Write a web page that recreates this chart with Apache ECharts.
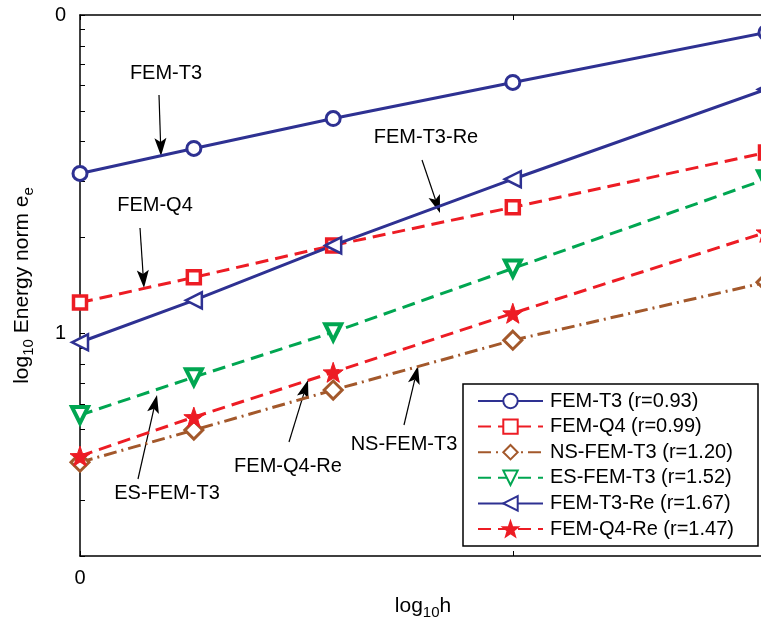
<!DOCTYPE html>
<html>
<head>
<meta charset="utf-8">
<script src="https://cdn.jsdelivr.net/npm/echarts@6/dist/echarts.min.js"></script>
<style>
  html, body { margin: 0; padding: 0; background: #fff; }
  #chart { width: 761px; height: 621px; }
</style>
</head>
<body>
<div id="chart"></div>
<script>
  // mesh size (log axis) and energy norm errors
  var hValues = [1, 1.2, 1.5, 2, 3]
  var femT3 = [0.318, 0.381, 0.473, 0.614, 0.881]
  var femQ4 = [0.125, 0.150, 0.189, 0.249, 0.370]
  var nsFemT3 = [0.0394, 0.0497, 0.0664, 0.0952, 0.1448]
  var esFemT3 = [0.0554, 0.0729, 0.1009, 0.160, 0.305]
  var femT3Re = [0.0938, 0.127, 0.189, 0.305, 0.584]
  var femQ4Re = [0.0412, 0.0546, 0.0755, 0.1157, 0.2077]
  var seriesNames = ['FEM-T3 (r=0.93)', 'FEM-Q4 (r=0.99)', 'NS-FEM-T3 (r=1.20)',
    'ES-FEM-T3 (r=1.52)', 'FEM-T3-Re (r=1.67)', 'FEM-Q4-Re (r=1.47)']

  var yTicks = [0.02, 0.03, 0.04, 0.05, 0.06, 0.07, 0.08, 0.09,
    0.1, 0.2, 0.3, 0.4, 0.5, 0.6, 0.7, 0.8, 0.9, 1]
  var yLabels = [0.1, 1]
  var xTicks = [1, 2]
  var xLabels = [1]

  var BLUE = '#2E3192'
  var RED = '#ED1C24'
  var GREEN = '#00A651'
  var BROWN = '#A3582B'
  var FONT = 'Liberation Sans, Arial, sans-serif'
  var STAR = 'path://M0,-10L2.35,-3.24L9.51,-3.09L3.8,1.24L5.88,8.09L0,4.4L-5.88,8.09L-3.8,1.24L-9.51,-3.09L-2.35,-3.24Z'

  function pairs (vals) {
    return hValues.map(function (h, i) { return [h, vals[i]] })
  }

  function makeSeries (name, vals, color, dash, symbol, size, rotate, fill, bw) {
    return {
      name: name,
      type: 'line',
      data: pairs(vals),
      symbol: symbol,
      symbolSize: size,
      symbolRotate: rotate,
      showAllSymbol: true,
      lineStyle: { color: color, width: 3, type: dash },
      itemStyle: { color: fill, borderColor: color, borderWidth: bw },
      emphasis: { disabled: true }
    }
  }

  // annotation labels with arrows (pixel layout)
  var notes = [
    { text: 'FEM-T3', tx: 166, ty: 73, x1: 159, y1: 95, x2: 161, y2: 156 },
    { text: 'FEM-Q4', tx: 155, ty: 205, x1: 140, y1: 228, x2: 144, y2: 288 },
    { text: 'FEM-T3-Re', tx: 426, ty: 137, x1: 422, y1: 160, x2: 440, y2: 213 },
    { text: 'ES-FEM-T3', tx: 167, ty: 493, x1: 138, y1: 479, x2: 157, y2: 395 },
    { text: 'FEM-Q4-Re', tx: 288, ty: 466, x1: 289, y1: 442, x2: 308, y2: 380 },
    { text: 'NS-FEM-T3', tx: 404, ty: 444, x1: 404, y1: 425, x2: 418, y2: 366 }
  ]

  function noteGraphics () {
    var out = []
    notes.forEach(function (n) {
      var dx = n.x2 - n.x1
      var dy = n.y2 - n.y1
      var len = Math.sqrt(dx * dx + dy * dy)
      var ux = dx / len
      var uy = dy / len
      var hl = 18
      var hw = 6
      var bx = n.x2 - ux * hl
      var by = n.y2 - uy * hl
      out.push({
        type: 'line',
        shape: { x1: n.x1, y1: n.y1, x2: bx + ux * 4, y2: by + uy * 4 },
        style: { stroke: '#000', lineWidth: 1.2 }
      })
      out.push({
        type: 'polygon',
        shape: { points: [[n.x2, n.y2], [bx - uy * hw, by + ux * hw], [bx + ux * 4, by + uy * 4], [bx + uy * hw, by - ux * hw]] },
        style: { fill: '#000' }
      })
      out.push({
        type: 'text',
        x: n.tx,
        y: n.ty,
        style: { text: n.text, font: '20px ' + FONT, fill: '#000', align: 'center', verticalAlign: 'middle' }
      })
    })
    return out
  }

  var myChart = echarts.init(document.getElementById('chart'))
  myChart.setOption({
    animation: false,
    backgroundColor: '#fff',
    grid: {
      left: 80,
      top: 15,
      width: 686,
      height: 541,
      containLabel: false,
      outerBoundsMode: 'none'
    },
    legend: {
      orient: 'vertical',
      left: 463,
      top: 384,
      data: seriesNames,
      itemWidth: 65,
      itemHeight: 18,
      itemGap: 3.6,
      padding: [6, 14, 6, 14],
      borderColor: '#000',
      borderWidth: 1.5,
      borderRadius: 0,
      backgroundColor: '#fff',
      selectedMode: false,
      textStyle: { fontSize: 20, fontFamily: FONT, color: '#000', lineHeight: 22, width: 194, overflow: 'none', padding: [0, 0, 0, 2] }
    },
    xAxis: [
      {
        type: 'log',
        min: 1,
        max: 3,
        position: 'bottom',
        name: '{m|log}{s|10}{m|h}',
        nameLocation: 'middle',
        nameGap: 36,
        nameTextStyle: {
          rich: {
            m: { fontSize: 21, fontFamily: FONT, color: '#000' },
            s: { fontSize: 15, fontFamily: FONT, color: '#000', padding: [13, 0, 0, 0] }
          }
        },
        axisLine: { show: true, onZero: false, lineStyle: { color: '#000', width: 1.5 } },
        axisTick: { show: true, inside: true, length: 5, customValues: xTicks, lineStyle: { color: '#000' } },
        axisLabel: {
          show: true,
          customValues: xLabels,
          margin: 12,
          fontSize: 20,
          fontFamily: FONT,
          color: '#000',
          formatter: function (v) { return String(Math.round(Math.abs(Math.log10(v)))) }
        },
        splitLine: { show: false },
        minorTick: { show: false },
        minorSplitLine: { show: false }
      },
      {
        type: 'log',
        min: 1,
        max: 3,
        position: 'top',
        axisLine: { show: true, onZero: false, lineStyle: { color: '#000', width: 1.5 } },
        axisTick: { show: true, inside: true, length: 5, customValues: xTicks, lineStyle: { color: '#000' } },
        axisLabel: { show: false },
        splitLine: { show: false }
      }
    ],
    yAxis: {
      type: 'log',
      min: 0.02,
      max: 1,
      name: '{m|log}{s|10}{m| Energy norm e}{s|e}',
      nameLocation: 'middle',
      nameGap: 44,
      nameTextStyle: {
        rich: {
          m: { fontSize: 21, fontFamily: FONT, color: '#000' },
          s: { fontSize: 15, fontFamily: FONT, color: '#000', padding: [13, 0, 0, 0] }
        }
      },
      axisLine: { show: true, onZero: false, lineStyle: { color: '#000', width: 1.5 } },
      axisTick: { show: true, inside: true, length: 5, customValues: yTicks, lineStyle: { color: '#000' } },
      axisLabel: {
        show: true,
        customValues: yLabels,
        margin: 14,
        fontSize: 20,
        fontFamily: FONT,
        color: '#000',
        formatter: function (v) { return String(Math.round(Math.abs(Math.log10(v)))) }
      },
      splitLine: { show: false },
      minorTick: { show: false },
      minorSplitLine: { show: false }
    },
    series: [
      makeSeries(seriesNames[0], femT3, BLUE, 'solid', 'circle', 14, 0, '#fff', 3),
      makeSeries(seriesNames[1], femQ4, RED, [13, 7], 'rect', 13, 0, '#fff', 3.5),
      makeSeries(seriesNames[2], nsFemT3, BROWN, [13, 5, 2, 5], 'diamond', 18, 0, '#fff', 3),
      makeSeries(seriesNames[3], esFemT3, GREEN, [13, 7], 'triangle', 16, 180, '#fff', 4),
      makeSeries(seriesNames[4], femT3Re, BLUE, 'solid', 'triangle', 16, 90, '#fff', 2.5),
      makeSeries(seriesNames[5], femQ4Re, RED, [13, 7], STAR, 20, 0, RED, 1)
    ],
    graphic: noteGraphics()
  })
</script>
</body>
</html>
